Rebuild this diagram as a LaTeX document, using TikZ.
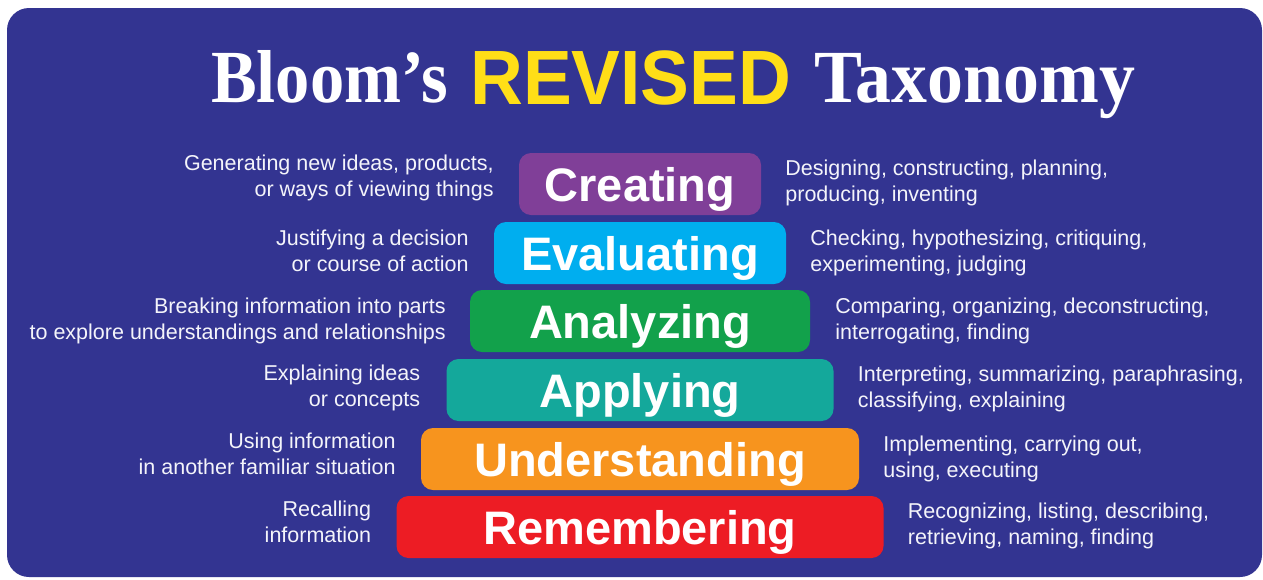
\documentclass[tikz,border=0pt]{standalone}
\usepackage{graphicx}
\usepackage{fontspec}
\setmainfont{Liberation Sans}
\newfontfamily\titleserif{Liberation Serif}
\definecolor{bg}{RGB}{51,52,145}
\definecolor{cCreate}{RGB}{128,63,152}
\definecolor{cEval}{RGB}{0,174,239}
\definecolor{cAnal}{RGB}{18,161,75}
\definecolor{cApply}{RGB}{20,168,155}
\definecolor{cUnder}{RGB}{247,148,30}
\definecolor{cRemem}{RGB}{237,28,36}
\definecolor{cYellow}{RGB}{255,222,23}
\definecolor{txt}{RGB}{244,244,250}
\begin{document}
\begin{tikzpicture}[x=1pt,y=-1pt,
  level/.style={rounded corners=12pt, minimum height=62pt, inner sep=0pt, text=white,
    font=\fontsize{47}{47}\selectfont\bfseries, text height=34pt, text depth=0pt},
  lefttxt/.style={anchor=east, align=right, inner sep=0pt, text=txt,
    font=\fontsize{21.5}{26}\selectfont},
  righttxt/.style={anchor=west, align=left, inner sep=0pt, text=txt,
    font=\fontsize{21.5}{26}\selectfont},
  titleser/.style={anchor=base west, inner sep=0pt, text=white,
    font=\titleserif\bfseries\fontsize{75}{75}\selectfont},
  titlesans/.style={anchor=base west, inner sep=0pt, text=cYellow,
    font=\bfseries\fontsize{77}{77}\selectfont}]
\useasboundingbox (0,0) rectangle (1263,579);
\fill[white] (0,0) rectangle (1263,579);
\fill[bg, rounded corners=22pt] (7,8) rectangle (1262,577);

% title
\node[titleser] (t1) at (211,102) {\scalebox{0.913}[1]{Bloom’s}};
\node[titlesans] (t2) at (470,104) {\scalebox{0.95}[1]{REVISED}};
\node[titleser] (t3) at (814,102) {\scalebox{0.958}[1]{Taxonomy}};

% levels
\node[level, fill=cCreate, minimum width=242pt] (create) at (640,184) {Creating};
\node[level, fill=cEval,   minimum width=292pt] (eval)   at (640,253) {Evaluating};
\node[level, fill=cAnal,   minimum width=340pt] (anal)   at (640,321) {Analyzing};
\node[level, fill=cApply,  minimum width=387pt] (apply)  at (640,390) {Applying};
\node[level, fill=cUnder,  minimum width=438pt] (under)  at (640,459) {Understanding};
\node[level, fill=cRemem,  minimum width=487pt] (remem)  at (640,527) {Remembering};

% left descriptions
\node[lefttxt] (createL) at ([xshift=-25pt,yshift=6pt]create.west) {Generating new ideas, products,\\or ways of viewing things};
\node[lefttxt] (evalL)   at ([xshift=-25pt,yshift=2pt]eval.west)   {Justifying a decision\\or course of action};
\node[lefttxt] (analL)   at ([xshift=-24pt,yshift=0pt]anal.west)   {Breaking information into parts\\to explore understandings and relationships};
\node[lefttxt] (applyL)  at ([xshift=-26pt,yshift=2pt]apply.west)  {Explaining ideas\\or concepts};
\node[lefttxt] (underL)  at ([xshift=-25pt,yshift=5pt]under.west)  {Using information\\in another familiar situation};
\node[lefttxt] (rememL)  at ([xshift=-25pt,yshift=5pt]remem.west)  {Recalling\\information};

% right descriptions
\node[righttxt] (createR) at ([xshift=24pt,yshift=1pt]create.east) {Designing, constructing, planning,\\producing, inventing};
\node[righttxt] (evalR)   at ([xshift=24pt]eval.east)   {Checking, hypothesizing, critiquing,\\experimenting, judging};
\node[righttxt] (analR)   at ([xshift=25pt]anal.east)   {Comparing, organizing, deconstructing,\\interrogating, finding};
\node[righttxt] (applyR)  at ([xshift=24pt,yshift=1pt]apply.east)  {Interpreting, summarizing, paraphrasing,\\classifying, explaining};
\node[righttxt] (underR)  at ([xshift=24pt]under.east)  {Implementing, carrying out,\\using, executing};
\node[righttxt] (rememR)  at ([xshift=24pt,yshift=1pt]remem.east)  {Recognizing, listing, describing,\\retrieving, naming, finding};
\end{tikzpicture}
\end{document}
